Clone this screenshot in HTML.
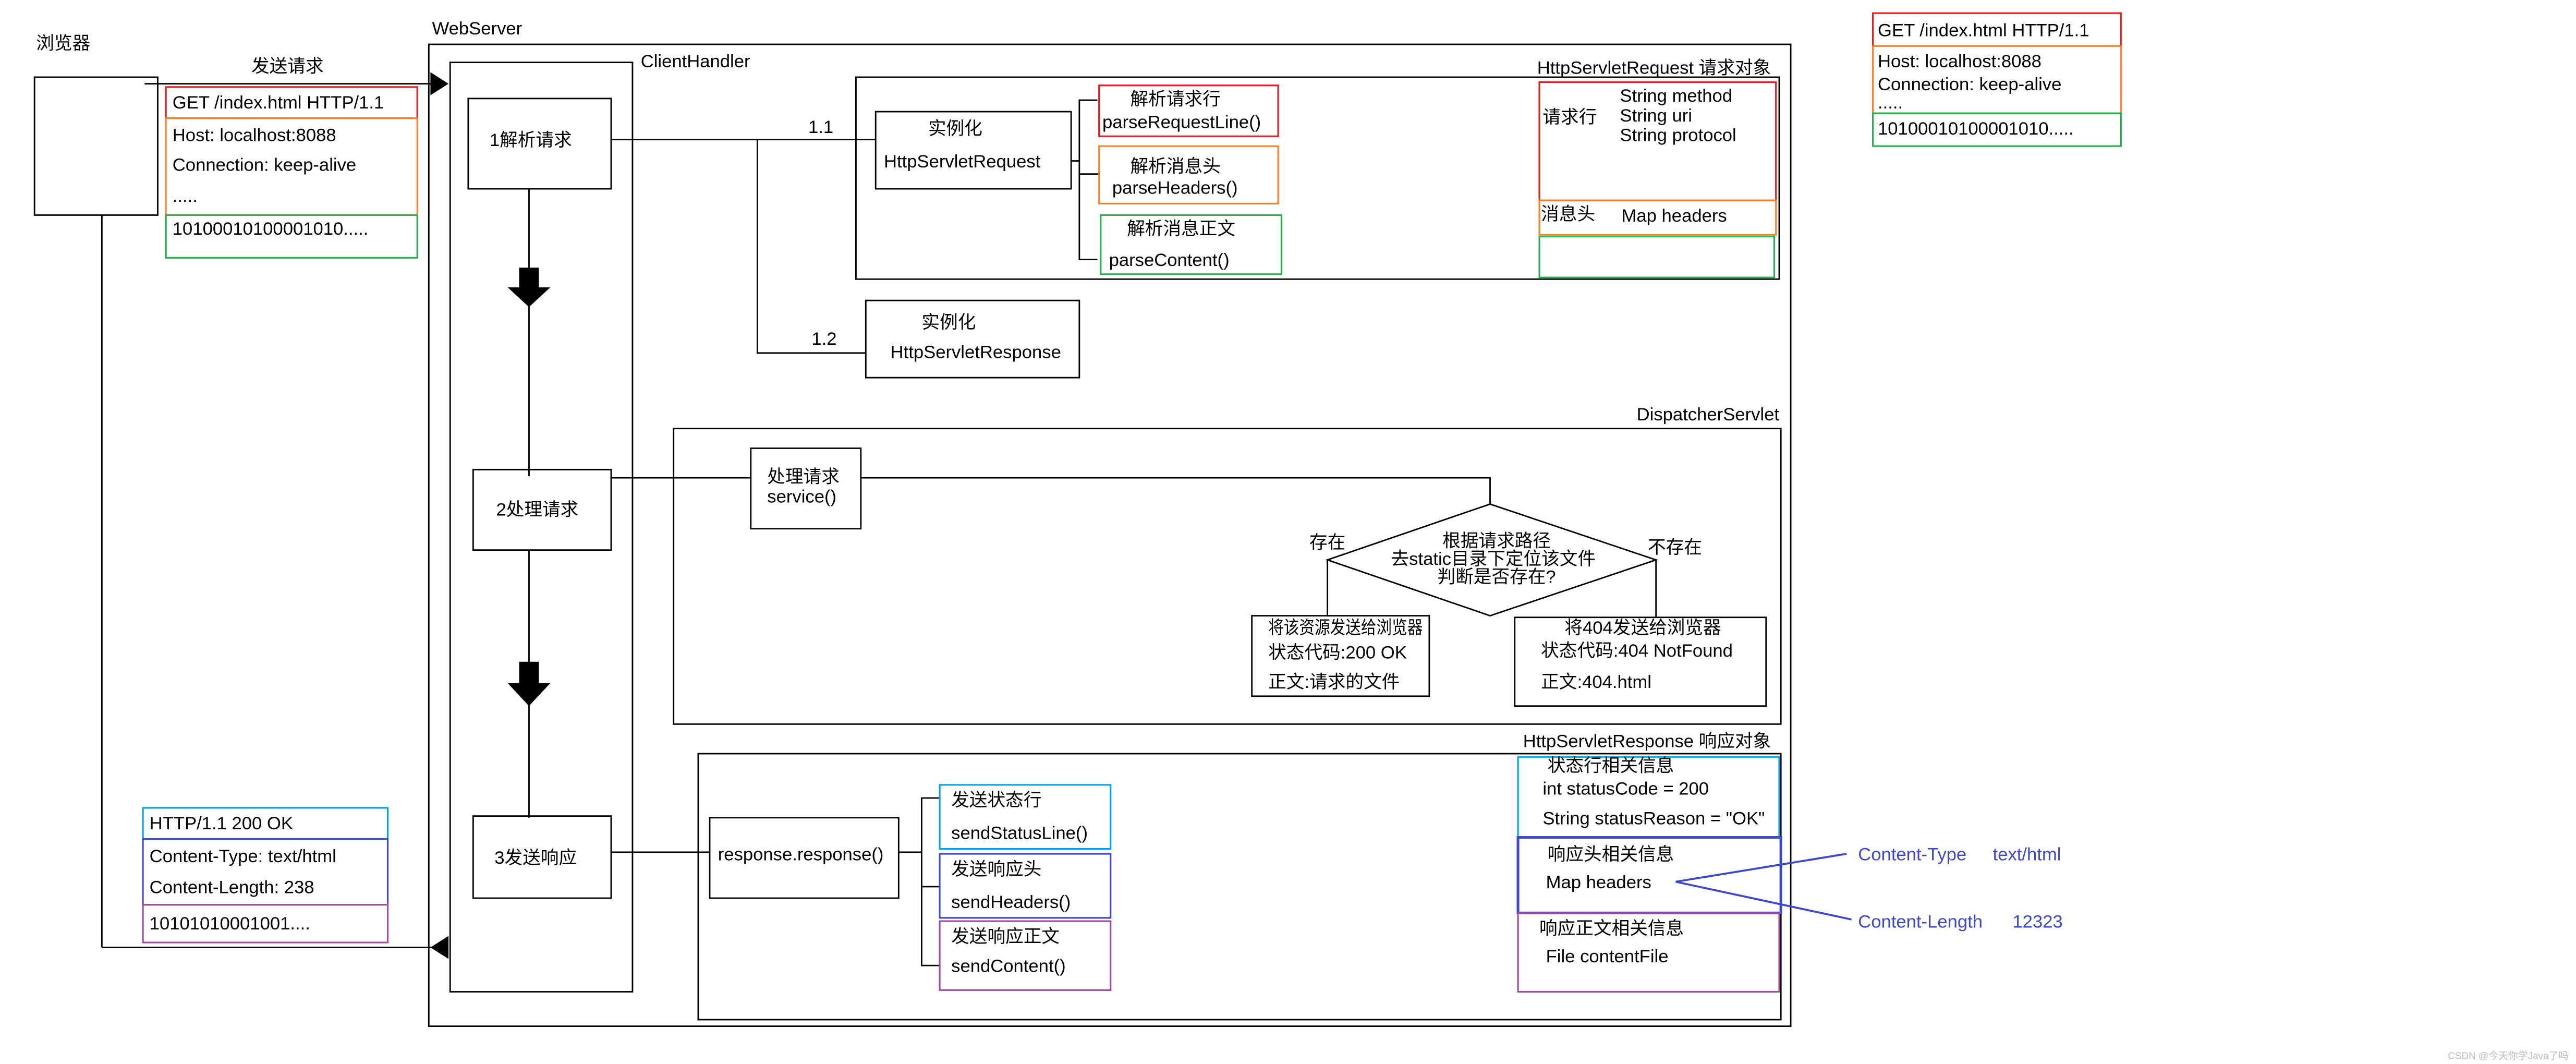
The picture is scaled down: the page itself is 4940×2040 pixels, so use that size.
<!DOCTYPE html>
<html><head><meta charset="utf-8"><style>
html,body{margin:0;padding:0;background:#fff}
svg{display:block}
text{font-family:"Liberation Sans","Noto Sans CJK SC",sans-serif;font-size:11px;fill:#000;white-space:pre}
</style></head><body>
<svg width="4940" height="2040" viewBox="0 0 1568 648" preserveAspectRatio="none" xmlns="http://www.w3.org/2000/svg">
<g fill="none" stroke="#000" stroke-width="0.9">
<rect x="21" y="47" width="75" height="84"/>
<line x1="62" y1="131" x2="62" y2="577"/>
<line x1="88" y1="51" x2="264" y2="51"/>
<line x1="62" y1="577" x2="270" y2="577"/>
<rect x="261" y="27" width="829" height="598"/>
<rect x="274" y="38" width="111" height="566"/>
<rect x="285" y="60" width="87" height="55"/>
<polyline points="372,85 533,85"/>
<polyline points="461,85 461,215 527,215"/>
<line x1="322" y1="115" x2="322" y2="290"/>
<line x1="322" y1="335" x2="322" y2="498"/>
<rect x="521" y="47" width="562" height="123"/>
<rect x="533" y="68" width="119" height="47"/>
<line x1="652" y1="98" x2="657" y2="98"/>
<polyline points="668,61 657,61 657,158 668,158"/>
<line x1="657" y1="106" x2="669" y2="106"/>
<rect x="527" y="183" width="130" height="47"/>
<rect x="288" y="286" width="84" height="49"/>
<line x1="372" y1="291" x2="457" y2="291"/>
<rect x="410" y="261" width="674" height="180"/>
<rect x="457" y="273" width="67" height="49"/>
<polyline points="524,291 907,291 907,307"/>
<polygon points="907,307 1008,341 907,375 808,341"/>
<polyline points="808,341 808,375"/>
<polyline points="1008,341 1008,376"/>
<rect x="762" y="375" width="108" height="49"/>
<rect x="922" y="376" width="153" height="54"/>
<rect x="288" y="497" width="84" height="50"/>
<line x1="372" y1="519" x2="432" y2="519"/>
<rect x="425" y="459" width="659" height="162"/>
<rect x="432" y="498" width="115" height="49"/>
<line x1="547" y1="519" x2="561" y2="519"/>
<polyline points="572,486 561,486 561,588 572,588"/>
<line x1="561" y1="540" x2="572" y2="540"/>
</g>
<polygon points="262,44 273,51 262,58" fill="#000"/>
<polygon points="273,570 262,577 273,584" fill="#000"/>
<polygon points="316,163 328,163 328,175 335,175 322,187 309,175 316,175" fill="#000"/>
<polygon points="316,403 328,403 328,416 335,416 322,430 309,416 316,416" fill="#000"/>
<g fill="none" stroke-width="1">
<rect x="101" y="53" width="153" height="19" stroke="#e02020"/>
<rect x="101" y="72" width="153" height="59" stroke="#ff7f27"/>
<rect x="101" y="131" width="153" height="26" stroke="#22b14c"/>
<rect x="1140" y="8" width="151" height="20" stroke="#e02020"/>
<rect x="1140" y="28" width="151" height="41" stroke="#ff7f27"/>
<rect x="1140" y="69" width="151" height="20" stroke="#22b14c"/>
<rect x="669" y="52" width="109" height="31" stroke="#e02020"/>
<rect x="669" y="89" width="109" height="35" stroke="#ff7f27"/>
<rect x="670" y="131" width="110" height="36" stroke="#22b14c"/>
<rect x="937" y="50" width="144" height="72" stroke="#e02020"/>
<rect x="937" y="122" width="144" height="21" stroke="#ff7f27"/>
<rect x="937" y="144" width="143" height="25" stroke="#22b14c"/>
<rect x="572" y="478" width="104" height="39" stroke="#00a2e8"/>
<rect x="572" y="520" width="104" height="39" stroke="#3f48cc"/>
<rect x="572" y="561" width="104" height="42" stroke="#a349a4"/>
<rect x="924" y="461" width="159" height="49" stroke="#00a2e8"/>
<rect x="924" y="510" width="160" height="46" stroke="#3f48cc" stroke-width="1.6"/>
<rect x="924" y="556" width="159" height="48" stroke="#a349a4"/>
<rect x="87" y="492" width="149" height="19" stroke="#00a2e8"/>
<rect x="87" y="511" width="149" height="40" stroke="#3f48cc"/>
<rect x="87" y="551" width="149" height="23" stroke="#a349a4"/>
<polyline points="1124,520 1020,537 1127,560" stroke="#3f48cc" stroke-width="1.2"/>
</g>
<text x="22" y="30">浏览器</text>
<text x="153" y="44">发送请求</text>
<text x="105" y="66">GET /index.html HTTP/1.1</text>
<text x="105" y="86">Host: localhost:8088</text>
<text x="105" y="104">Connection: keep-alive</text>
<text x="105" y="123" font-size="8">.....</text>
<text x="105" y="143">10100010100001010.....</text>
<text x="1143" y="22">GET /index.html HTTP/1.1</text>
<text x="1143" y="41">Host: localhost:8088</text>
<text x="1143" y="55">Connection: keep-alive</text>
<text x="1143" y="66" font-size="8">.....</text>
<text x="1143" y="82">10100010100001010.....</text>
<text x="263" y="21">WebServer</text>
<text x="390" y="41">ClientHandler</text>
<text x="298" y="89">1解析请求</text>
<text x="492" y="81">1.1</text>
<text x="494" y="210">1.2</text>
<text x="1078" y="45" text-anchor="end">HttpServletRequest 请求对象</text>
<text x="565" y="82">实例化</text>
<text x="538" y="102">HttpServletRequest</text>
<text x="688" y="64">解析请求行</text>
<text x="671" y="78">parseRequestLine()</text>
<text x="688" y="105">解析消息头</text>
<text x="677" y="118">parseHeaders()</text>
<text x="686" y="143">解析消息正文</text>
<text x="675" y="162">parseContent()</text>
<text x="939" y="75">请求行</text>
<text x="986" y="62">String method</text>
<text x="986" y="74">String uri</text>
<text x="986" y="86">String protocol</text>
<text x="938" y="134">消息头</text>
<text x="987" y="135">Map headers</text>
<text x="561" y="200">实例化</text>
<text x="542" y="218">HttpServletResponse</text>
<text x="302" y="314">2处理请求</text>
<text x="1083" y="256" text-anchor="end">DispatcherServlet</text>
<text x="467" y="294">处理请求</text>
<text x="467" y="306">service()</text>
<text x="911" y="333" text-anchor="middle">根据请求路径</text>
<text x="909" y="344" text-anchor="middle">去static目录下定位该文件</text>
<text x="911" y="355" text-anchor="middle">判断是否存在?</text>
<text x="797" y="334">存在</text>
<text x="1003" y="337">不存在</text>
<text x="772" y="386" textLength="94" lengthAdjust="spacingAndGlyphs">将该资源发送给浏览器</text>
<text x="772" y="401">状态代码:200 OK</text>
<text x="772" y="419">正文:请求的文件</text>
<text x="1000" y="386" text-anchor="middle">将404发送给浏览器</text>
<text x="938" y="400">状态代码:404 NotFound</text>
<text x="938" y="419">正文:404.html</text>
<text x="1078" y="455" text-anchor="end">HttpServletResponse 响应对象</text>
<text x="301" y="526">3发送响应</text>
<text x="437" y="524">response.response()</text>
<text x="579" y="491">发送状态行</text>
<text x="579" y="511">sendStatusLine()</text>
<text x="579" y="533">发送响应头</text>
<text x="579" y="553">sendHeaders()</text>
<text x="579" y="574">发送响应正文</text>
<text x="579" y="592">sendContent()</text>
<text x="942" y="470">状态行相关信息</text>
<text x="939" y="484">int statusCode = 200</text>
<text x="939" y="502">String statusReason = "OK"</text>
<text x="942" y="524">响应头相关信息</text>
<text x="941" y="541">Map headers</text>
<text x="937" y="569">响应正文相关信息</text>
<text x="941" y="586">File contentFile</text>
<text x="1131" y="524" style="fill:#3f48cc">Content-Type</text>
<text x="1213" y="524" style="fill:#3f48cc">text/html</text>
<text x="1131" y="565" style="fill:#3f48cc">Content-Length</text>
<text x="1225" y="565" style="fill:#3f48cc">12323</text>
<text x="91" y="505">HTTP/1.1 200 OK</text>
<text x="91" y="525">Content-Type: text/html</text>
<text x="91" y="544">Content-Length: 238</text>
<text x="91" y="566">10101010001001....</text>
<text x="1490" y="645" style="fill:#bbb;font-size:6px">CSDN @今天你学Java了吗</text>
</svg>
</body></html>
